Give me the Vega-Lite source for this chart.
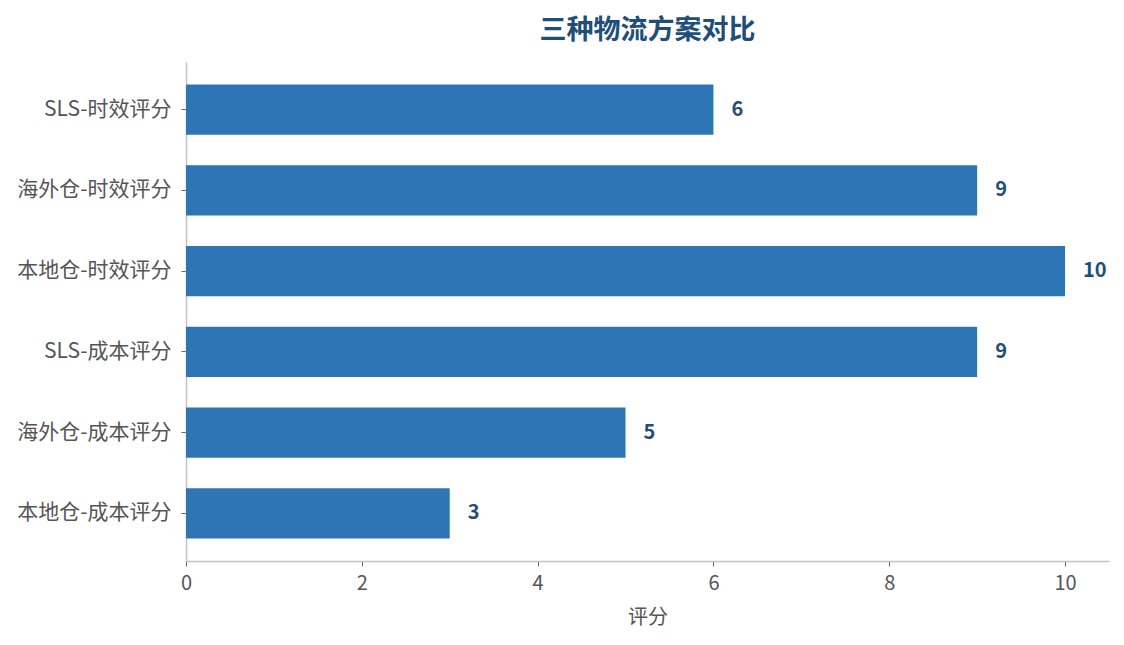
{
  "$schema": "https://vega.github.io/schema/vega-lite/v6.json",
  "width": 923,
  "height": 499,
  "autosize": "none",
  "padding": {"left": 186, "top": 62, "right": 15, "bottom": 84},
  "background": "white",
  "title": {
    "text": "三种物流方案对比",
    "font": "Noto Sans CJK SC",
    "fontSize": 27,
    "fontWeight": "bold",
    "color": "#1f4e79",
    "anchor": "middle",
    "offset": 17
  },
  "config": {
    "view": {"stroke": null},
    "axis": {
      "labelFont": "Noto Sans CJK SC",
      "titleFont": "Noto Sans CJK SC",
      "labelColor": "#555555",
      "titleColor": "#555555",
      "domainColor": "#c4c4c4",
      "tickColor": "#666666",
      "grid": false
    }
  },
  "data": {
    "values": [
      {"item": "SLS-时效评分", "score": 6},
      {"item": "海外仓-时效评分", "score": 9},
      {"item": "本地仓-时效评分", "score": 10},
      {"item": "SLS-成本评分", "score": 9},
      {"item": "海外仓-成本评分", "score": 5},
      {"item": "本地仓-成本评分", "score": 3}
    ]
  },
  "encoding": {
    "y": {
      "field": "item",
      "type": "nominal",
      "sort": null,
      "title": null,
      "scale": {"paddingInner": 0.38, "paddingOuter": 0.28},
      "axis": {"labelFontSize": 21, "labelPadding": 10, "tickSize": 5, "domainWidth": 1.5}
    },
    "x": {
      "field": "score",
      "type": "quantitative",
      "title": "评分",
      "scale": {"domain": [0, 10.5], "nice": false},
      "axis": {
        "values": [0, 2, 4, 6, 8, 10],
        "labelFlush": false,
        "labelFontSize": 20,
        "titleFontSize": 20,
        "titleFontWeight": "normal",
        "tickSize": 5,
        "labelPadding": 7,
        "titlePadding": 14,
        "domainWidth": 1.5
      }
    }
  },
  "layer": [
    {"mark": {"type": "bar", "color": "#2e75b6"}},
    {
      "mark": {
        "type": "text",
        "align": "left",
        "baseline": "middle",
        "dx": 18,
        "font": "Noto Sans CJK SC",
        "fontSize": 20,
        "fontWeight": "bold",
        "color": "#1f4e79"
      },
      "encoding": {"text": {"field": "score", "type": "quantitative"}}
    }
  ]
}
